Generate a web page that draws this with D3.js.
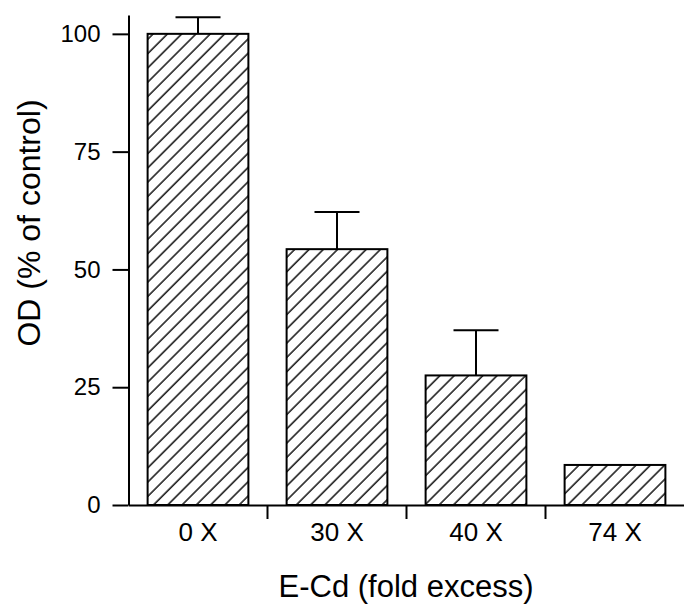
<!DOCTYPE html>
<html>
<head>
<meta charset="utf-8">
<script src="https://cdn.jsdelivr.net/npm/d3@7"></script>
<style>
  body { margin: 0; background: #fff; }
  svg { display: block; font-family: "Liberation Sans", Arial, sans-serif; }
</style>
</head>
<body>
<svg id="chart" width="684" height="605"></svg>
<script>
// values
const categories = ["0 X", "30 X", "40 X", "74 X"];
const values = [100, 54.3, 27.5, 8.5];
const errors = [3.5, 7.9, 9.6, 0];
const yTicks = [0, 25, 50, 75, 100];

const svg = d3.select("#chart");

const x = d3.scaleBand()
    .domain(categories)
    .range([128.5, 684.5])
    .paddingInner(0.275)
    .paddingOuter(0.1375);

const y = d3.scaleLinear()
    .domain([0, 104])
    .range([505, 15]);

// hatch fill
const defs = svg.append("defs");
defs.append("pattern")
    .attr("id", "hatch")
    .attr("patternUnits", "userSpaceOnUse")
    .attr("width", 10.1)
    .attr("height", 10.1)
    .attr("patternTransform", "rotate(45)")
    .append("line")
    .attr("x1", 1).attr("y1", -1)
    .attr("x2", 1).attr("y2", 12)
    .attr("stroke", "#000")
    .attr("stroke-width", 1.4);

// bars
svg.selectAll("rect.bar")
    .data(categories)
    .join("rect")
    .attr("class", "bar")
    .attr("x", d => x(d))
    .attr("y", (d, i) => y(values[i]))
    .attr("width", x.bandwidth())
    .attr("height", (d, i) => y(0) - y(values[i]))
    .attr("fill", "url(#hatch)")
    .attr("stroke", "#000")
    .attr("stroke-width", 2);

// error bars
let eb = svg.selectAll("g.err")
    .data(categories.filter((d, i) => errors[i] > 0))
    .join("g")
    .attr("class", "err");
eb.append("line")
    .attr("x1", d => x(d) + x.bandwidth() / 2)
    .attr("x2", d => x(d) + x.bandwidth() / 2)
    .attr("y1", d => y(values[categories.indexOf(d)]))
    .attr("y2", d => { let i = categories.indexOf(d); return y(values[i] + errors[i]) })
    .attr("stroke", "#000").attr("stroke-width", 2);
eb.append("line")
    .attr("x1", d => x(d) + x.bandwidth() / 2 - 22.5)
    .attr("x2", d => x(d) + x.bandwidth() / 2 + 22.5)
    .attr("y1", d => { let i = categories.indexOf(d); return y(values[i] + errors[i]) })
    .attr("y2", d => { let i = categories.indexOf(d); return y(values[i] + errors[i]) })
    .attr("stroke", "#000").attr("stroke-width", 2);

// y axis
const yAxis = svg.append("g")
    .attr("transform", "translate(" + x.range()[0] + ",0)")
    .call(d3.axisLeft(y).tickValues(yTicks).tickSize(16).tickSizeOuter(0).tickPadding(12));
yAxis.selectAll("line, path").attr("stroke", "#000").attr("stroke-width", 2);
yAxis.selectAll("text").attr("font-size", 24).attr("fill", "#000").attr("font-family", null);

// x axis
const xAxis = svg.append("g")
    .attr("transform", "translate(0," + y(0) + ")")
    .call(d3.axisBottom(x).tickSize(0).tickSizeOuter(0));
xAxis.select("path").attr("stroke", "#000").attr("stroke-width", 2);
xAxis.selectAll("text").attr("font-size", 26).attr("fill", "#000").attr("font-family", null)
    .attr("y", 36).attr("dy", 0);

// ticks between categories
svg.selectAll("line.sep")
    .data(categories.slice(1))
    .join("line")
    .attr("class", "sep")
    .attr("x1", d => x(d) - x.step() * x.paddingInner() / 2)
    .attr("x2", d => x(d) - x.step() * x.paddingInner() / 2)
    .attr("y1", y(0))
    .attr("y2", y(0) + 14)
    .attr("stroke", "#000")
    .attr("stroke-width", 2);

// axis titles
svg.append("text")
    .attr("x", 406)
    .attr("y", 597)
    .attr("text-anchor", "middle")
    .attr("font-size", 31)
    .text("E-Cd (fold excess)");

svg.append("text")
    .attr("transform", "translate(40,223) rotate(-90)")
    .attr("text-anchor", "middle")
    .attr("font-size", 32)
    .text("OD (% of control)");
</script>
</body>
</html>
